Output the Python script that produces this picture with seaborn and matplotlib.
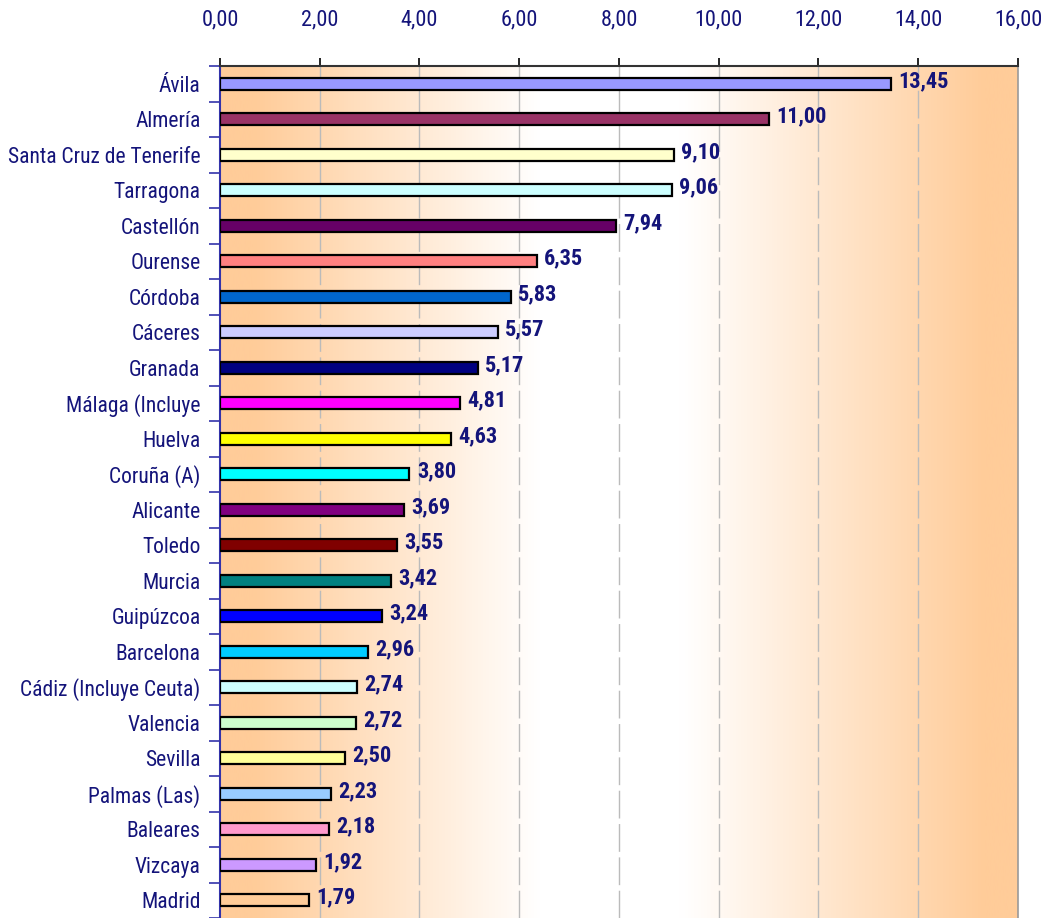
import numpy as np
import pandas as pd
import matplotlib
matplotlib.use('Agg')
import matplotlib.pyplot as plt
import seaborn as sns
from matplotlib.colors import LinearSegmentedColormap

provincias = ['Ávila', 'Almería', 'Santa Cruz de Tenerife', 'Tarragona', 'Castellón',
              'Ourense', 'Córdoba', 'Cáceres', 'Granada', 'Málaga (Incluye',
              'Huelva', 'Coruña (A)', 'Alicante', 'Toledo', 'Murcia', 'Guipúzcoa',
              'Barcelona', 'Cádiz (Incluye Ceuta)', 'Valencia', 'Sevilla',
              'Palmas (Las)', 'Baleares', 'Vizcaya', 'Madrid']
valores = [13.45, 11.00, 9.10, 9.06, 7.94, 6.35, 5.83, 5.57, 5.17, 4.81, 4.63, 3.80,
           3.69, 3.55, 3.42, 3.24, 2.96, 2.74, 2.72, 2.50, 2.23, 2.18, 1.92, 1.79]
colores = ['#9999FF', '#993366', '#FFFFCC', '#CCFFFF', '#660066', '#FF8080', '#0066CC',
           '#CCCCFF', '#000080', '#FF00FF', '#FFFF00', '#00FFFF', '#800080', '#800000',
           '#008080', '#0000FF', '#00CCFF', '#CCFFFF', '#CCFFCC', '#FFFF99', '#99CCFF',
           '#FF99CC', '#CC99FF', '#FFCC99']
ticks_x = [0, 2, 4, 6, 8, 10, 12, 14, 16]

navy = '#14147A'
plt.rcParams['font.family'] = ['Roboto Condensed', 'Liberation Sans', 'DejaVu Sans']

df = pd.DataFrame({'provincia': provincias, 'valor': valores})

fig = plt.figure(figsize=(10.54, 9.18), dpi=100)
ax = fig.add_axes([0.2087, 0.0, 0.7571, 0.928])

# background gradient: orange at both edges, white plateau in the middle
cmap = LinearSegmentedColormap.from_list(
    'fondo', [(0.0, '#FFCC99'), (0.04, '#FFCC99'), (0.40, '#FFFFFF'),
              (0.58, '#FFFFFF'), (0.96, '#FFCC99'), (1.0, '#FFCC99')])
ax.imshow(np.linspace(0, 1, 500)[np.newaxis, :], cmap=cmap, aspect='auto',
          extent=[0, 16, 23.5, -0.5], zorder=0, interpolation='bicubic')

sns.barplot(data=df, x='valor', y='provincia', hue='provincia', palette=colores,
            legend=False, orient='h', width=0.33, edgecolor='black', linewidth=1.6,
            saturation=1, ax=ax, zorder=3)

ax.set_xlim(0, 16)
ax.set_ylim(23.5, -0.5)

# long-dashed vertical grid
for x in ticks_x[1:-1]:
    ax.axvline(x, color='#BBBBBB', linewidth=1.0, linestyle=(0, (20, 4)), zorder=1)

ax.xaxis.tick_top()
ax.set_xticks(ticks_x)
ax.set_xticklabels([f'{t:.2f}'.replace('.', ',') for t in ticks_x])
ax.tick_params(axis='x', direction='out', length=6, width=1.2, color='black',
               labelsize=16, labelcolor=navy, pad=20)
ax.set_yticks(range(len(provincias)))
ax.set_yticklabels(provincias)
ax.tick_params(axis='y', length=0, labelsize=15.5, labelcolor=navy, pad=14)
ax.set_yticks(np.arange(-0.5, len(provincias), 1), minor=True)
ax.tick_params(axis='y', which='minor', length=8, width=1.2, color='#3333AA')
ax.set_xlabel('')
ax.set_ylabel('')

ax.spines['top'].set_color('#333333')
ax.spines['top'].set_linewidth(1.5)
ax.spines['left'].set_color('#3333AA')
ax.spines['left'].set_linewidth(1.5)
ax.spines['right'].set_color('#999999')
ax.spines['right'].set_linewidth(1.2)
ax.spines['bottom'].set_visible(False)

for i, v in enumerate(valores):
    ax.text(v + 0.15, i - 0.08, f'{v:.2f}'.replace('.', ','), va='center', ha='left',
            fontsize=16, fontweight='bold', color=navy, zorder=4)

fig.savefig('out.png', dpi=100)
